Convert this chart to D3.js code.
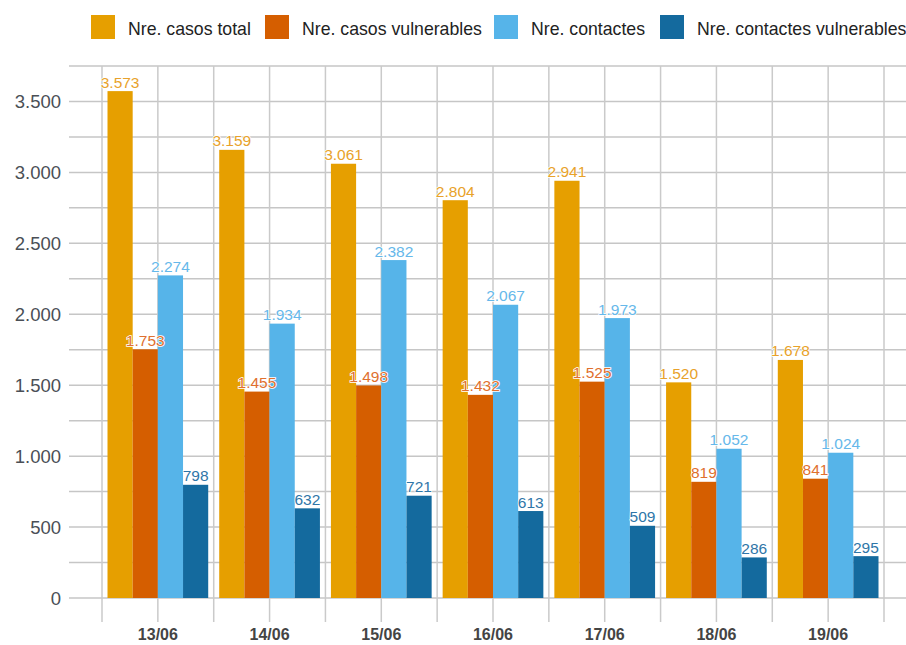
<!DOCTYPE html>
<html>
<head>
<meta charset="utf-8">
<script src="https://cdn.jsdelivr.net/npm/d3@7"></script>
<style>
  html, body { margin: 0; padding: 0; background: #fff; }
  svg { display: block; font-family: "Liberation Sans", Arial, sans-serif; }
</style>
</head>
<body>
<svg id="chart" width="906" height="645"></svg>
<script>
const categories = ["13/06", "14/06", "15/06", "16/06", "17/06", "18/06", "19/06"];
const seriesNames = ["Nre. casos total", "Nre. casos vulnerables", "Nre. contactes", "Nre. contactes vulnerables"];
const casosTotal = [3573, 3159, 3061, 2804, 2941, 1520, 1678];
const casosVulnerables = [1753, 1455, 1498, 1432, 1525, 819, 841];
const contactes = [2274, 1934, 2382, 2067, 1973, 1052, 1024];
const contactesVulnerables = [798, 632, 721, 613, 509, 286, 295];
const colors = ["#E69F00", "#D55E00", "#56B4E9", "#146A9E"];
const labelColors = ["#E8A22A", "#E0702E", "#66B8EA", "#2F76A8"];
const yTicks = [0, 500, 1000, 1500, 2000, 2500, 3000, 3500];
const yGrid = [0, 250, 500, 750, 1000, 1250, 1500, 1750, 2000, 2250, 2500, 2750, 3000, 3250, 3500, 3750];

const seriesValues = [casosTotal, casosVulnerables, contactes, contactesVulnerables];

const svg = d3.select("#chart");
const plot = { left: 69, right: 906, top: 66, bottom: 598 };
const bandLeft = 102, bandRight = 884;

const x0 = d3.scaleBand().domain(categories).range([bandLeft, bandRight]).padding(0);
const x1 = d3.scaleBand().domain(d3.range(seriesNames.length))
  .range([5.5, x0.bandwidth() - 5.5]).padding(0);
const y = d3.scaleLinear().domain([0, 3750]).range([plot.bottom, plot.top]);

const fmt = v => d3.format(",")(v).replace(/,/g, ".");

// horizontal grid
svg.append("g").selectAll("line").data(yGrid).join("line")
  .attr("x1", plot.left).attr("x2", plot.right)
  .attr("y1", d => y(d)).attr("y2", d => y(d))
  .attr("stroke", "#c6c6c6").attr("stroke-width", 1.5);

// vertical grid (band edges and centers)
const vLines = [];
categories.forEach(c => { vLines.push(x0(c)); vLines.push(x0(c) + x0.bandwidth() / 2); });
vLines.push(x0(categories[categories.length - 1]) + x0.bandwidth());
svg.append("g").selectAll("line").data(vLines).join("line")
  .attr("x1", d => d).attr("x2", d => d)
  .attr("y1", plot.top).attr("y2", plot.bottom + 24)
  .attr("stroke", "#cacaca").attr("stroke-width", 1.5);

// bars
const groups = svg.append("g").selectAll("g").data(categories).join("g")
  .attr("transform", c => `translate(${x0(c)},0)`);

groups.selectAll("rect").data((c, i) => seriesValues.map((s, k) => ({ k, v: s[i] })))
  .join("rect")
  .attr("x", d => x1(d.k))
  .attr("width", x1.bandwidth())
  .attr("y", d => y(d.v))
  .attr("height", d => y(0) - y(d.v))
  .attr("fill", d => colors[d.k]);

// value labels
groups.selectAll("text").data((c, i) => seriesValues.map((s, k) => ({ k, v: s[i] })))
  .join("text")
  .attr("x", d => x1(d.k) + x1.bandwidth() / 2)
  .attr("y", d => y(d.v) - 3.5)
  .attr("text-anchor", "middle")
  .attr("font-size", 15.5)
  .attr("fill", d => labelColors[d.k])
  .attr("stroke", "#fff").attr("stroke-width", 1.5)
  .attr("paint-order", "stroke")
  .text(d => fmt(d.v));

// y axis labels
svg.append("g").selectAll("text").data(yTicks).join("text")
  .attr("x", 61).attr("y", d => y(d) + 7)
  .attr("text-anchor", "end")
  .attr("font-size", 18.5)
  .attr("fill", "#4a4f56")
  .text(d => fmt(d));

// x axis labels
svg.append("g").selectAll("text").data(categories).join("text")
  .attr("x", c => x0(c) + x0.bandwidth() / 2)
  .attr("y", 640)
  .attr("text-anchor", "middle")
  .attr("font-size", 16)
  .attr("font-weight", "bold")
  .attr("fill", "#444")
  .text(c => c);

// legend
const legendX = [91, 265, 494, 660];
const legend = svg.append("g").selectAll("g").data(seriesNames).join("g")
  .attr("transform", (d, i) => `translate(${legendX[i]},15)`);
legend.append("rect").attr("width", 24).attr("height", 24)
  .attr("fill", (d, i) => colors[i]);
legend.append("text").attr("x", 37).attr("y", 19.5)
  .attr("font-size", 17.7).attr("fill", "#222")
  .text(d => d);
</script>
</body>
</html>
